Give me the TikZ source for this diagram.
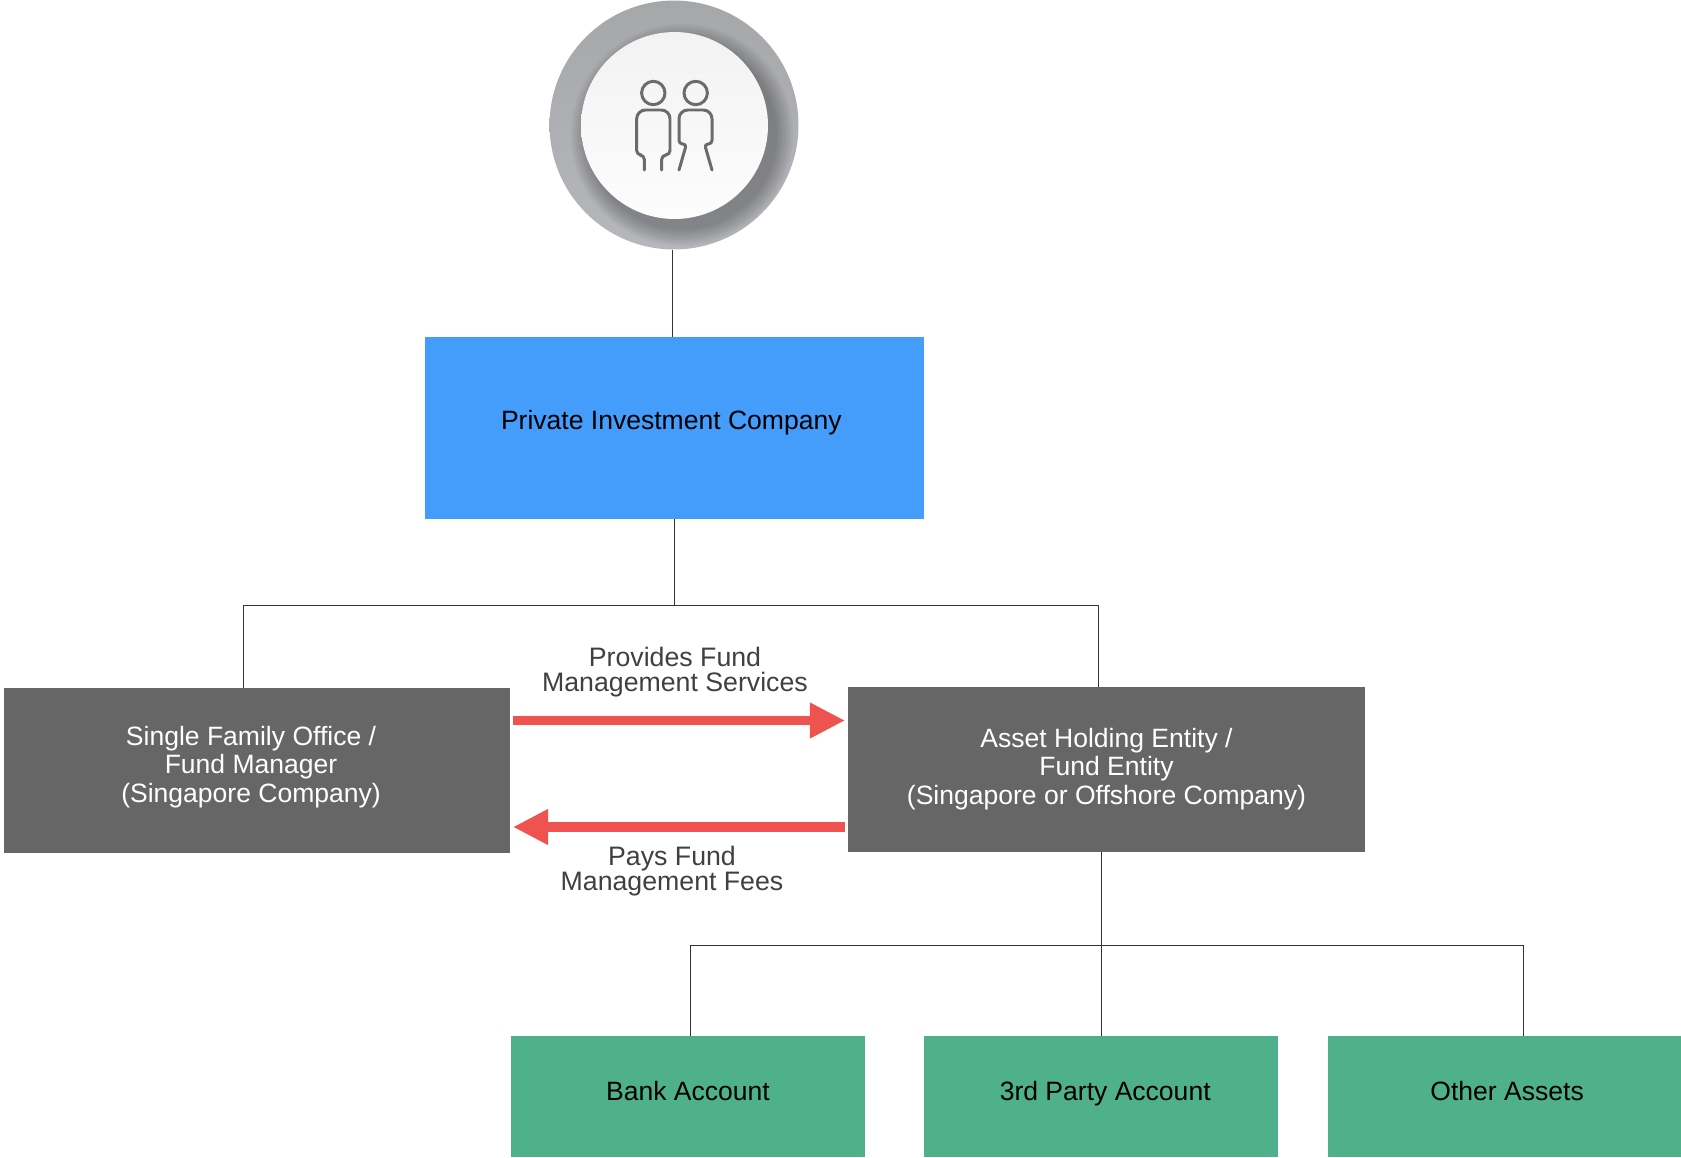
\documentclass[tikz,border=0pt]{standalone}
\usepackage{fontspec}
\setmainfont{Liberation Sans}
\usetikzlibrary{arrows.meta, positioning}
\definecolor{ringgray}{HTML}{A6A7A9}
\definecolor{ringlow}{HTML}{B6B7BB}
\definecolor{iconline}{HTML}{6B6B6B}
\definecolor{topblue}{HTML}{449CFB}
\definecolor{darkbox}{HTML}{666666}
\definecolor{leafgreen}{HTML}{4FB189}
\definecolor{flowred}{HTML}{EF5350}
\definecolor{labelgray}{HTML}{404040}
\newcommand{\officeshift}{\hspace*{-6.8pt}}

\begin{document}
\begin{tikzpicture}[
  x=0.02cm, y=-0.02cm,
  every node/.style={font=\fontsize{15.1}{16.2}\selectfont},
  box/.style={rectangle, inner sep=0pt, align=center},
  ownerbox/.style={box, fill=topblue, text=black, minimum width=9.98cm, minimum height=3.64cm},
  darkentity/.style={box, fill=darkbox, text=white, minimum height=3.3cm},
  leaf/.style={box, fill=leafgreen, text=black, minimum width=7.08cm, minimum height=2.42cm},
  flowlabel/.style={align=center, text=labelgray, inner sep=0pt, font=\fontsize{15.2}{14.7}\selectfont},
  link/.style={draw=black!80, line width=0.5pt},
  flow/.style={draw=flowred, line width=5.6pt, -{Triangle[length=20pt,width=19pt,fill=flowred]}, shorten >=1.5pt, shorten <=1.5pt},
  person/.style={draw=iconline, line width=1.7pt, line cap=round, line join=round}
  ]
\useasboundingbox (0,0) rectangle (1681,1157);

% owner badge
\node[circle, minimum size=4.98cm, inner sep=0pt, top color=ringgray, bottom color=ringlow] (ring) at (674,125) {};
\begin{scope}
  \clip (674,125) circle (124);
  \foreach \r in {111,109,...,95} {
    \fill[black, opacity=.03] (682,135) circle (\r);
  }
\end{scope}
\node[circle, minimum size=3.74cm, inner sep=0pt, top color=black!5, bottom color=black!1] (badge) at (674.5,125.5) {};
\draw[person] (653.3,93) circle (11.7);
\draw[person] (695.7,93) circle (11.7);
\draw[person, rounded corners=2.5pt] (644.3,170) -- (644.3,155) -- (636.7,155) [rounded corners=5pt] -- (636.7,110) -- (670,110) [rounded corners=2.5pt] -- (670,155) -- (661.7,155) -- (661.7,170);
\draw[person, rounded corners=2pt] (679,170) -- (686.5,144) -- (679,144) [rounded corners=5pt] -- (679,110) -- (712,110) [rounded corners=2pt] -- (712,144) -- (704.5,144) -- (712,170);

\node[ownerbox, text depth=9.5pt] (private) at (674.5,428) {\hspace*{-3.6pt}Private Investment Company};

\node[darkentity, minimum width=10.12cm, text depth=7.4pt] (office) at (257,770.5) {\officeshift Single Family Office /\\\officeshift Fund Manager\\\officeshift (Singapore Company)};
\node[darkentity, minimum width=10.34cm, text depth=3.6pt] (holding) at (1106.5,769.5) {Asset Holding Entity /\\Fund Entity\\(Singapore or Offshore Company)};

\node[leaf, text depth=6.8pt] (bank) at (688,1096.5) {Bank Account};
\node[leaf, text depth=6.8pt] (third) at (1101,1096.5) {\hspace*{4.8pt}3rd Party Account};
\node[leaf, text depth=6.8pt] (other) at (1504.5,1096.5) {\hspace*{3pt}Other Assets};

\node[flowlabel] (provides) at (675,672) {Provides Fund\\Management Services};
\node[flowlabel] (pays) at (672,871) {Pays Fund\\Management Fees};

% junctions
\coordinate (topbus) at (674,605);
\coordinate (topleft) at (243.5,605);
\coordinate (topright) at (1098,605);
\coordinate (lowbus) at (1101,945.5);
\coordinate (lowleft) at (690,945.5);
\coordinate (lowright) at (1523,945.5);
\coordinate (flowtop) at (0,720.5);
\coordinate (flowlow) at (0,827);

\draw[link] (ring.south -| 672,0) -- (private.north -| 672,0);
\draw[link] (private.south -| topbus) -- (topbus);
\draw[link] (office.north -| topleft) -- (topleft) -- (topright) -- (holding.north -| topright);
\draw[link] (holding.south -| lowbus) -- (third.north -| lowbus);
\draw[link] (bank.north -| lowleft) -- (lowleft) -- (lowright) -- (other.north -| lowright);

\draw[flow] (office.east |- flowtop) -- (holding.west |- flowtop);
\draw[flow] (holding.west |- flowlow) -- (office.east |- flowlow);

\end{tikzpicture}
\end{document}
